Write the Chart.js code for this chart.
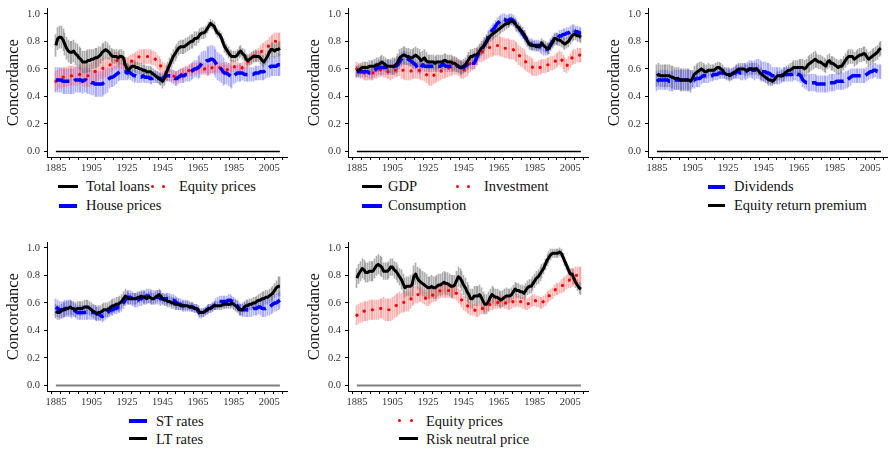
<!DOCTYPE html>
<html>
<head>
<meta charset="utf-8">
<script src="https://cdn.jsdelivr.net/npm/chart.js@4.4.1/dist/chart.umd.min.js"></script>
<style>
  body { margin: 0; background: #fff; width: 888px; height: 451px; overflow: hidden; position: relative; font-family: "Liberation Serif", serif; }
  canvas { position: absolute; }
  .t { position: absolute; font-size: 14.5px; line-height: 16px; color: #111; white-space: nowrap; }
  .ln { position: absolute; height: 3px; background: #000; }
  .ln.blue { background: #0000ff; height: 3.5px; }
  .dt { position: absolute; width: 3px; height: 3px; border-radius: 50%; background: #ff0000; }
</style>
</head>
<body>
<canvas id="p1" width="293" height="177" style="left:0px;top:-2px"></canvas>
<canvas id="p2" width="293" height="177" style="left:301px;top:-2px"></canvas>
<canvas id="p3" width="293" height="177" style="left:601px;top:-2px"></canvas>
<canvas id="p4" width="293" height="177" style="left:0px;top:232px"></canvas>
<canvas id="p5" width="293" height="177" style="left:301px;top:232px"></canvas>

<!-- legends -->
<div class="ln" style="left:58px;top:185px;width:20px"></div>
<div class="t" style="left:86px;top:178px">Total loans</div>
<div class="dt" style="left:151px;top:185px"></div>
<div class="dt" style="left:162px;top:185px"></div>
<div class="t" style="left:179px;top:178px">Equity prices</div>
<div class="ln blue" style="left:59px;top:204px;width:18px"></div>
<div class="t" style="left:86px;top:197px">House prices</div>

<div class="ln" style="left:362px;top:185px;width:20px"></div>
<div class="t" style="left:388px;top:178px">GDP</div>
<div class="dt" style="left:456px;top:185px"></div>
<div class="dt" style="left:467px;top:185px"></div>
<div class="t" style="left:484px;top:178px">Investment</div>
<div class="ln blue" style="left:362px;top:204px;width:20px"></div>
<div class="t" style="left:388px;top:197px">Consumption</div>

<div class="ln blue" style="left:708px;top:185px;width:17px"></div>
<div class="t" style="left:734px;top:178px">Dividends</div>
<div class="ln" style="left:708px;top:204px;width:17px"></div>
<div class="t" style="left:734px;top:197px">Equity return premium</div>

<div class="ln blue" style="left:129px;top:419px;width:18px"></div>
<div class="t" style="left:156px;top:413px">ST rates</div>
<div class="ln" style="left:129px;top:437px;width:18px"></div>
<div class="t" style="left:156px;top:431px">LT rates</div>

<div class="dt" style="left:398px;top:419px"></div>
<div class="dt" style="left:410px;top:419px"></div>
<div class="t" style="left:426px;top:413px">Equity prices</div>
<div class="ln" style="left:399px;top:437px;width:19px"></div>
<div class="t" style="left:426px;top:431px">Risk neutral price</div>

<script>
// years 1885..2011, one value per year
const firstYear = 1885;
const lastYear = 2011;
const xTickLabels = ['1885', '1905', '1925', '1945', '1965', '1985', '2005'];
const yTicks = [0, 0.2, 0.4, 0.6, 0.8, 1.0];

const totalLoans = [
  0.77,0.82,0.83,0.83,0.81,0.78,0.75,0.73,0.72,0.72,
  0.73,0.71,0.70,0.68,0.67,0.65,0.65,0.65,0.66,0.66,
  0.67,0.67,0.68,0.68,0.69,0.70,0.72,0.73,0.74,0.73,
  0.72,0.70,0.69,0.69,0.69,0.68,0.69,0.69,0.68,0.63,
  0.60,0.59,0.61,0.62,0.62,0.61,0.61,0.60,0.60,0.59,
  0.59,0.58,0.58,0.58,0.57,0.56,0.55,0.54,0.53,0.52,
  0.51,0.53,0.57,0.60,0.63,0.66,0.69,0.71,0.73,0.75,
  0.76,0.76,0.76,0.77,0.78,0.79,0.80,0.80,0.82,0.82,
  0.83,0.85,0.86,0.86,0.87,0.89,0.91,0.93,0.92,0.91,
  0.88,0.86,0.85,0.83,0.79,0.76,0.74,0.72,0.70,0.69,
  0.69,0.69,0.70,0.72,0.73,0.71,0.70,0.67,0.66,0.67,
  0.68,0.69,0.69,0.69,0.69,0.68,0.66,0.65,0.67,0.69,
  0.72,0.74,0.74,0.73,0.74,0.74,0.75
];
const equityPrices = [
  0.51,0.52,0.53,0.53,0.54,0.54,0.54,0.55,0.55,0.55,
  0.55,0.55,0.55,0.56,0.56,0.56,0.55,0.55,0.55,0.55,
  0.56,0.57,0.58,0.59,0.60,0.60,0.60,0.61,0.61,0.61,
  0.62,0.64,0.65,0.66,0.66,0.66,0.66,0.65,0.64,0.63,
  0.63,0.64,0.65,0.66,0.66,0.67,0.68,0.69,0.69,0.69,
  0.69,0.69,0.69,0.69,0.68,0.68,0.67,0.65,0.64,0.62,
  0.60,0.59,0.58,0.57,0.56,0.55,0.55,0.54,0.54,0.55,
  0.56,0.56,0.57,0.58,0.58,0.59,0.59,0.60,0.60,0.60,
  0.61,0.61,0.61,0.60,0.60,0.59,0.59,0.60,0.61,0.61,
  0.62,0.61,0.61,0.60,0.60,0.59,0.59,0.60,0.61,0.62,
  0.62,0.61,0.61,0.60,0.60,0.61,0.62,0.64,0.65,0.66,
  0.67,0.69,0.70,0.70,0.71,0.72,0.73,0.74,0.75,0.76,
  0.77,0.78,0.79,0.80,0.80,0.80,0.80
];
const housePrices = [
  0.52,0.52,0.52,0.52,0.51,0.51,0.51,0.51,0.51,0.51,
  0.51,0.52,0.52,0.52,0.52,0.51,0.52,0.52,0.51,0.51,
  0.50,0.50,0.49,0.49,0.49,0.49,0.49,0.50,0.51,0.52,
  0.53,0.54,0.54,0.55,0.56,0.57,0.58,0.58,0.58,0.58,
  0.57,0.58,0.57,0.56,0.55,0.55,0.54,0.54,0.54,0.55,
  0.54,0.54,0.54,0.53,0.53,0.54,0.54,0.54,0.53,0.53,
  0.53,0.54,0.55,0.55,0.55,0.55,0.54,0.53,0.53,0.54,
  0.55,0.55,0.55,0.56,0.56,0.57,0.58,0.59,0.60,0.60,
  0.61,0.62,0.64,0.65,0.65,0.66,0.66,0.67,0.67,0.66,
  0.64,0.62,0.61,0.60,0.58,0.57,0.57,0.56,0.55,0.54,
  0.55,0.56,0.57,0.57,0.57,0.57,0.56,0.56,0.56,0.56,
  0.56,0.56,0.57,0.57,0.57,0.58,0.58,0.58,0.59,0.60,
  0.61,0.62,0.62,0.62,0.62,0.63,0.63
];
const gdp = [
  0.58,0.59,0.60,0.61,0.61,0.61,0.61,0.62,0.62,0.62,
  0.62,0.63,0.63,0.64,0.65,0.64,0.63,0.62,0.62,0.62,
  0.62,0.62,0.63,0.65,0.68,0.69,0.70,0.70,0.69,0.69,
  0.68,0.68,0.69,0.70,0.69,0.68,0.66,0.67,0.68,0.66,
  0.65,0.65,0.65,0.65,0.64,0.65,0.65,0.65,0.65,0.66,
  0.66,0.65,0.65,0.65,0.64,0.64,0.63,0.62,0.61,0.61,
  0.62,0.63,0.65,0.67,0.69,0.69,0.70,0.70,0.71,0.73,
  0.75,0.76,0.78,0.80,0.82,0.84,0.85,0.86,0.87,0.88,
  0.89,0.90,0.91,0.92,0.93,0.93,0.94,0.95,0.94,0.93,
  0.91,0.90,0.88,0.87,0.85,0.83,0.80,0.78,0.77,0.77,
  0.77,0.76,0.76,0.77,0.79,0.77,0.76,0.75,0.75,0.77,
  0.79,0.82,0.82,0.81,0.81,0.80,0.79,0.78,0.79,0.80,
  0.82,0.84,0.85,0.85,0.84,0.84,0.83
];
const consumption = [
  0.58,0.58,0.58,0.58,0.58,0.58,0.58,0.57,0.57,0.58,
  0.59,0.60,0.61,0.61,0.61,0.61,0.61,0.61,0.61,0.61,
  0.61,0.62,0.62,0.63,0.65,0.67,0.68,0.68,0.68,0.67,
  0.66,0.65,0.64,0.63,0.61,0.60,0.61,0.63,0.62,0.62,
  0.62,0.62,0.62,0.62,0.62,0.62,0.62,0.62,0.63,0.63,
  0.62,0.62,0.62,0.62,0.62,0.62,0.62,0.62,0.61,0.61,
  0.61,0.62,0.63,0.65,0.64,0.64,0.64,0.67,0.70,0.72,
  0.74,0.76,0.78,0.80,0.84,0.86,0.88,0.89,0.91,0.93,
  0.94,0.95,0.96,0.96,0.95,0.95,0.96,0.96,0.95,0.93,
  0.91,0.90,0.88,0.86,0.84,0.82,0.80,0.78,0.78,0.77,
  0.77,0.77,0.77,0.76,0.75,0.74,0.74,0.74,0.75,0.78,
  0.80,0.81,0.82,0.82,0.84,0.84,0.85,0.85,0.86,0.86,
  0.87,0.88,0.88,0.87,0.87,0.86,0.86
];
const investment = [
  0.60,0.59,0.58,0.58,0.57,0.57,0.57,0.57,0.57,0.57,
  0.58,0.58,0.59,0.59,0.60,0.59,0.59,0.58,0.58,0.57,
  0.58,0.59,0.59,0.60,0.60,0.59,0.59,0.58,0.58,0.58,
  0.58,0.59,0.59,0.59,0.59,0.59,0.58,0.58,0.57,0.56,
  0.55,0.54,0.54,0.55,0.56,0.57,0.57,0.58,0.59,0.59,
  0.60,0.60,0.61,0.61,0.62,0.62,0.62,0.61,0.60,0.59,
  0.59,0.60,0.61,0.63,0.64,0.65,0.66,0.68,0.69,0.71,
  0.72,0.73,0.74,0.74,0.75,0.76,0.76,0.77,0.77,0.77,
  0.77,0.76,0.76,0.75,0.75,0.75,0.74,0.74,0.74,0.73,
  0.72,0.70,0.69,0.68,0.67,0.65,0.64,0.63,0.62,0.61,
  0.60,0.60,0.61,0.61,0.62,0.62,0.62,0.63,0.63,0.64,
  0.64,0.65,0.66,0.67,0.68,0.67,0.65,0.63,0.62,0.64,
  0.66,0.68,0.69,0.69,0.70,0.70,0.70
];
const dividends = [
  0.51,0.52,0.52,0.52,0.52,0.52,0.52,0.51,0.51,0.51,
  0.52,0.52,0.52,0.52,0.52,0.52,0.52,0.52,0.52,0.52,
  0.52,0.52,0.53,0.53,0.53,0.54,0.55,0.55,0.55,0.55,
  0.55,0.55,0.56,0.56,0.56,0.57,0.57,0.57,0.57,0.57,
  0.57,0.56,0.56,0.57,0.57,0.58,0.58,0.57,0.57,0.58,
  0.58,0.59,0.60,0.60,0.59,0.59,0.60,0.60,0.59,0.58,
  0.58,0.58,0.57,0.57,0.56,0.55,0.55,0.55,0.55,0.55,
  0.55,0.56,0.56,0.56,0.56,0.56,0.56,0.57,0.57,0.56,
  0.56,0.55,0.52,0.51,0.50,0.50,0.50,0.50,0.50,0.50,
  0.49,0.49,0.49,0.49,0.49,0.49,0.49,0.50,0.50,0.50,
  0.50,0.51,0.51,0.51,0.51,0.51,0.52,0.52,0.53,0.54,
  0.55,0.55,0.55,0.55,0.55,0.55,0.55,0.55,0.56,0.57,
  0.58,0.58,0.59,0.59,0.58,0.58,0.58
];
const equityPremium = [
  0.55,0.56,0.55,0.55,0.55,0.55,0.55,0.55,0.54,0.54,
  0.53,0.53,0.53,0.52,0.52,0.52,0.52,0.52,0.52,0.51,
  0.53,0.56,0.57,0.58,0.59,0.60,0.59,0.58,0.58,0.59,
  0.59,0.59,0.59,0.60,0.61,0.61,0.60,0.59,0.57,0.56,
  0.56,0.55,0.56,0.57,0.58,0.59,0.60,0.60,0.60,0.60,
  0.59,0.59,0.60,0.60,0.60,0.60,0.60,0.59,0.57,0.56,
  0.55,0.54,0.53,0.52,0.52,0.51,0.52,0.54,0.55,0.55,
  0.55,0.55,0.57,0.58,0.59,0.59,0.60,0.61,0.61,0.61,
  0.61,0.61,0.61,0.60,0.61,0.63,0.64,0.65,0.66,0.67,
  0.66,0.65,0.65,0.64,0.63,0.62,0.65,0.66,0.64,0.64,
  0.63,0.62,0.61,0.62,0.62,0.64,0.66,0.68,0.69,0.69,
  0.69,0.67,0.68,0.69,0.70,0.70,0.71,0.71,0.69,0.67,
  0.68,0.69,0.70,0.71,0.72,0.74,0.75
];
const stRates = [
  0.57,0.56,0.55,0.55,0.55,0.56,0.56,0.56,0.56,0.55,
  0.55,0.54,0.53,0.53,0.53,0.53,0.53,0.53,0.53,0.53,
  0.53,0.53,0.53,0.52,0.52,0.51,0.50,0.51,0.52,0.53,
  0.54,0.55,0.55,0.56,0.56,0.57,0.57,0.58,0.60,0.62,
  0.64,0.64,0.64,0.63,0.62,0.62,0.62,0.63,0.63,0.64,
  0.64,0.65,0.65,0.65,0.64,0.64,0.64,0.64,0.64,0.63,
  0.63,0.63,0.63,0.63,0.63,0.62,0.62,0.61,0.60,0.59,
  0.59,0.58,0.58,0.58,0.58,0.58,0.57,0.57,0.56,0.56,
  0.54,0.52,0.52,0.53,0.54,0.55,0.56,0.56,0.57,0.58,
  0.59,0.60,0.61,0.61,0.61,0.61,0.61,0.62,0.62,0.61,
  0.60,0.59,0.58,0.56,0.55,0.55,0.55,0.55,0.55,0.55,
  0.55,0.56,0.56,0.56,0.57,0.57,0.56,0.56,0.56,0.57,
  0.57,0.58,0.59,0.60,0.60,0.61,0.62
];
const ltRates = [
  0.54,0.53,0.53,0.54,0.55,0.55,0.56,0.56,0.57,0.56,
  0.56,0.55,0.56,0.56,0.56,0.56,0.57,0.57,0.57,0.56,
  0.55,0.54,0.53,0.52,0.53,0.53,0.54,0.55,0.55,0.55,
  0.56,0.57,0.58,0.58,0.59,0.59,0.60,0.61,0.63,0.65,
  0.64,0.63,0.63,0.63,0.63,0.63,0.64,0.64,0.65,0.64,
  0.64,0.63,0.64,0.64,0.63,0.63,0.64,0.65,0.66,0.65,
  0.63,0.62,0.62,0.61,0.61,0.60,0.60,0.59,0.59,0.59,
  0.58,0.58,0.58,0.58,0.58,0.57,0.57,0.57,0.56,0.56,
  0.55,0.53,0.53,0.53,0.54,0.55,0.56,0.56,0.57,0.58,
  0.58,0.58,0.58,0.58,0.59,0.59,0.59,0.59,0.59,0.60,
  0.59,0.58,0.57,0.55,0.55,0.55,0.57,0.58,0.58,0.59,
  0.59,0.60,0.60,0.61,0.62,0.62,0.63,0.63,0.64,0.64,
  0.65,0.66,0.67,0.69,0.71,0.72,0.72
];
const riskNeutral = [
  0.78,0.81,0.83,0.85,0.84,0.82,0.82,0.83,0.83,0.83,
  0.85,0.87,0.88,0.87,0.86,0.83,0.83,0.83,0.84,0.86,
  0.86,0.84,0.83,0.81,0.79,0.77,0.74,0.71,0.72,0.72,
  0.72,0.73,0.79,0.81,0.78,0.76,0.75,0.74,0.73,0.72,
  0.71,0.71,0.72,0.71,0.71,0.72,0.73,0.73,0.74,0.75,
  0.74,0.74,0.73,0.72,0.72,0.73,0.76,0.79,0.78,0.76,
  0.73,0.71,0.68,0.66,0.63,0.63,0.65,0.65,0.65,0.66,
  0.64,0.61,0.59,0.59,0.61,0.64,0.66,0.65,0.64,0.64,
  0.63,0.62,0.63,0.64,0.65,0.65,0.65,0.66,0.68,0.70,
  0.69,0.69,0.68,0.68,0.67,0.69,0.71,0.72,0.72,0.74,
  0.76,0.78,0.79,0.81,0.83,0.85,0.88,0.91,0.93,0.95,
  0.96,0.96,0.96,0.96,0.97,0.96,0.93,0.90,0.87,0.84,
  0.81,0.81,0.78,0.75,0.73,0.71,0.70
];

// half-width of the confidence bars, one entry per 5-year block (1885-89, 1890-94, ...)
const errLoans   = [0.08,0.08,0.08,0.08,0.07,0.06,0.05,0.05,0.04,0.04,0.04,0.04,0.05,0.05,0.05,0.05,0.04,0.03,0.03,0.04,0.04,0.04,0.04,0.04,0.05,0.05];
const errEquity  = [0.07,0.07,0.07,0.08,0.08,0.07,0.06,0.05,0.05,0.05,0.05,0.05,0.05,0.04,0.04,0.04,0.04,0.04,0.04,0.04,0.04,0.04,0.04,0.05,0.06,0.06];
const errHouse   = [0.09,0.09,0.09,0.09,0.09,0.09,0.07,0.06,0.05,0.04,0.04,0.04,0.04,0.05,0.05,0.06,0.08,0.10,0.10,0.08,0.06,0.05,0.05,0.06,0.07,0.08];
const errGdp     = [0.04,0.04,0.05,0.05,0.06,0.06,0.06,0.06,0.05,0.05,0.05,0.05,0.05,0.05,0.05,0.04,0.04,0.03,0.03,0.03,0.03,0.04,0.04,0.04,0.04,0.04];
const errCons    = [0.04,0.04,0.05,0.05,0.05,0.05,0.04,0.04,0.04,0.04,0.04,0.04,0.04,0.04,0.04,0.04,0.04,0.04,0.04,0.04,0.04,0.04,0.04,0.04,0.04,0.04];
const errInv     = [0.05,0.05,0.05,0.05,0.05,0.06,0.06,0.06,0.06,0.06,0.06,0.06,0.06,0.06,0.07,0.07,0.07,0.07,0.07,0.06,0.05,0.05,0.05,0.05,0.05,0.05];
const errDiv     = [0.07,0.07,0.07,0.07,0.06,0.05,0.04,0.04,0.04,0.05,0.06,0.07,0.07,0.06,0.05,0.05,0.05,0.06,0.06,0.06,0.06,0.06,0.05,0.05,0.05,0.05];
const errPremium = [0.08,0.08,0.08,0.08,0.06,0.05,0.04,0.04,0.04,0.04,0.04,0.04,0.04,0.03,0.04,0.05,0.06,0.06,0.05,0.05,0.05,0.05,0.05,0.05,0.05,0.05];
const errSt      = [0.06,0.06,0.05,0.05,0.05,0.04,0.04,0.04,0.05,0.05,0.05,0.05,0.04,0.04,0.04,0.03,0.03,0.03,0.04,0.04,0.04,0.05,0.05,0.06,0.06,0.06];
const errLt      = [0.05,0.05,0.05,0.05,0.05,0.05,0.05,0.05,0.04,0.04,0.04,0.04,0.04,0.04,0.03,0.03,0.03,0.03,0.03,0.03,0.04,0.04,0.04,0.05,0.05,0.07];
const errRisk    = [0.07,0.07,0.07,0.06,0.06,0.07,0.08,0.09,0.08,0.08,0.08,0.07,0.07,0.07,0.07,0.06,0.06,0.05,0.05,0.05,0.05,0.04,0.03,0.03,0.04,0.04];

const years = [];
for (let y = firstYear; y <= lastYear; y++) years.push(y);
const tickYears = [];
for (let y = 1885; y <= 2015; y += 5) tickYears.push(y);

const FONT = 'Liberation Serif';

const lineStyles = {
    solid: { borderColor: '#000000', borderWidth: 3, order: 0 },
    dash:  { borderColor: '#0000ff', borderWidth: 3.5, borderDash: [14, 5], order: 1 },
    dot:   { borderColor: '#ff0000', borderWidth: 3.2, borderDash: [0.1, 8.6], borderCapStyle: 'round', order: 2 },
};
const barColors = {
    solid: 'rgba(110,110,110,0.55)',
    dash: 'rgba(80,80,255,0.42)',
    dot: 'rgba(255,80,80,0.42)',
};

function points(vals) {
    return years.map((y, i) => ({x: y, y: vals[i]}));
}
function errorBars(vals, err) {
    return years.map((y, i) => {
        const e = err[Math.floor(i / 5)];
        return {x: y, y: [vals[i] - e, vals[i] + e]};
    });
}

// snap the 1px error bars onto whole pixels so they show as separate spikes
const crispBars = {
    id: 'crispBars',
    afterDatasetsUpdate(chart) {
        chart.data.datasets.forEach((ds, i) => {
            if (ds.type !== 'bar') return;
            chart.getDatasetMeta(i).data.forEach(el => {
                el.x = Math.floor(el.x) + 0.5;
            });
        });
    }
};

const axisGrid = {
    display: true,
    drawOnChartArea: false,
    drawTicks: true,
    tickLength: 3,
    color: '#000',
    tickColor: '#000',
};

function makePanel(id, series, zeroColor, zeroWidth) {
    const datasets = [];
    series.forEach(s => {
        datasets.push({
            type: 'bar',
            data: errorBars(s.vals, s.err),
            backgroundColor: barColors[s.style],
            borderWidth: 0,
            barThickness: 1,
            grouped: false,
            order: 10,
        });
        datasets.push(Object.assign({
            type: 'line',
            data: points(s.vals),
            pointRadius: 0,
            fill: false,
            tension: 0,
            borderJoinStyle: 'round',
        }, lineStyles[s.style]));
    });
    datasets.push({
        type: 'line',
        data: [{x: firstYear, y: 0}, {x: lastYear, y: 0}],
        borderColor: zeroColor,
        borderWidth: zeroWidth,
        pointRadius: 0,
        order: 5,
    });

    return new Chart(document.getElementById(id), {
        type: 'line',
        data: { datasets },
        plugins: [crispBars],
        options: {
            responsive: false,
            animation: false,
            devicePixelRatio: 1,
            layout: { padding: { top: 7, right: 6, left: 0, bottom: 0 } },
            plugins: { legend: { display: false }, tooltip: { enabled: false } },
            scales: {
                x: {
                    type: 'linear',
                    min: 1880,
                    max: 2015,
                    offset: false,
                    afterBuildTicks: s => { s.ticks = tickYears.map(v => ({value: v})); },
                    afterFit: s => { s.height = 18; },
                    grid: axisGrid,
                    border: { display: true, color: '#000', width: 1 },
                    ticks: {
                        autoSkip: false,
                        maxRotation: 0,
                        padding: 2,
                        color: '#333',
                        font: { family: FONT, size: 10.5 },
                        callback: v => xTickLabels.includes(String(v)) ? String(v) : '',
                    },
                },
                y: {
                    type: 'linear',
                    min: -0.04,
                    max: 1.04,
                    afterBuildTicks: s => { s.ticks = yTicks.map(v => ({value: v})); },
                    afterFit: s => { s.width = 47; },
                    grid: axisGrid,
                    border: { display: true, color: '#000', width: 1 },
                    ticks: {
                        padding: 4,
                        color: '#333',
                        font: { family: FONT, size: 10.5 },
                        callback: v => v.toFixed(1),
                    },
                    title: {
                        display: true,
                        text: 'Concordance',
                        color: '#111',
                        font: { family: FONT, size: 16.5 },
                        padding: { top: 3.4, bottom: 0 },
                    },
                },
            },
        },
    });
}

const grey = '#7f7f7f';
makePanel('p1', [
    {vals: totalLoans, err: errLoans, style: 'solid'},
    {vals: equityPrices, err: errEquity, style: 'dot'},
    {vals: housePrices, err: errHouse, style: 'dash'},
], '#000', 1.5);
makePanel('p2', [
    {vals: gdp, err: errGdp, style: 'solid'},
    {vals: investment, err: errInv, style: 'dot'},
    {vals: consumption, err: errCons, style: 'dash'},
], '#000', 1.5);
makePanel('p3', [
    {vals: dividends, err: errDiv, style: 'dash'},
    {vals: equityPremium, err: errPremium, style: 'solid'},
], '#000', 1.5);
makePanel('p4', [
    {vals: stRates, err: errSt, style: 'dash'},
    {vals: ltRates, err: errLt, style: 'solid'},
], grey, 2.2);
makePanel('p5', [
    {vals: equityPrices, err: errEquity, style: 'dot'},
    {vals: riskNeutral, err: errRisk, style: 'solid'},
], grey, 2.2);
</script>
</body>
</html>
